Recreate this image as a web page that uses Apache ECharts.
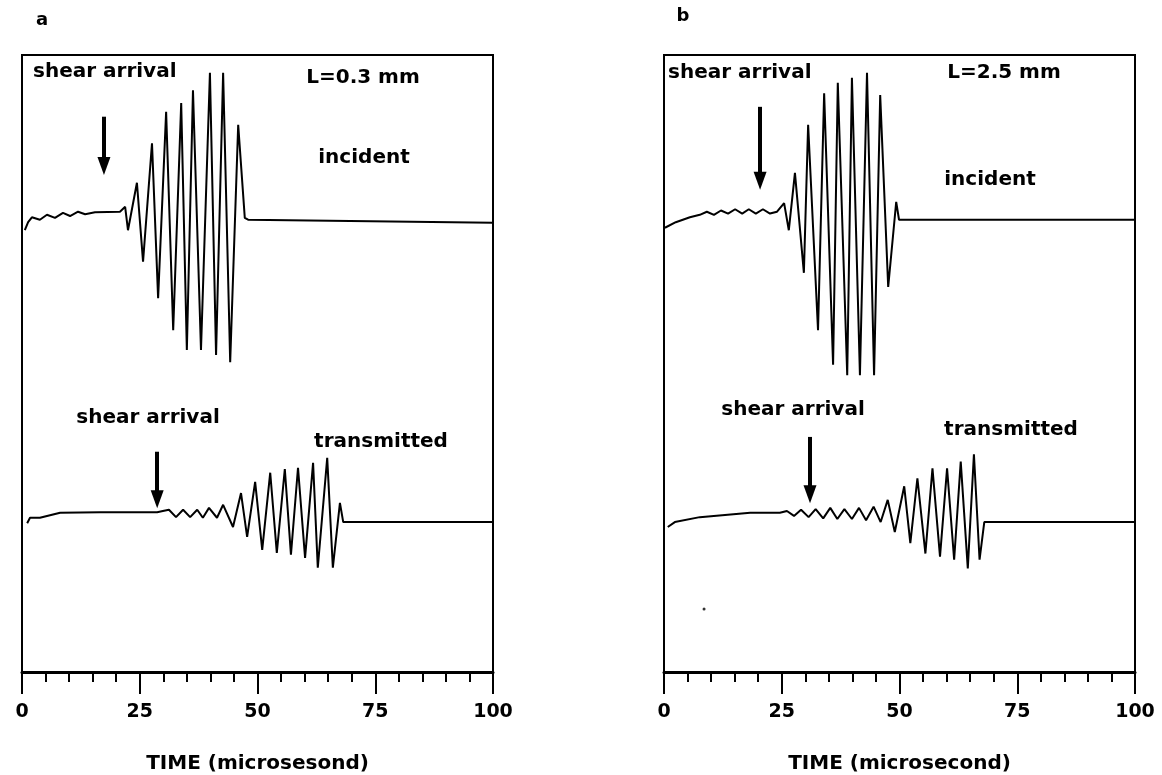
<!DOCTYPE html>
<html>
<head>
<meta charset="utf-8">
<script src="https://cdn.jsdelivr.net/npm/echarts@6/dist/echarts.min.js"></script>
<style>
html, body { margin: 0; padding: 0; background: #fff; }
#main { width: 1162px; height: 775px; }
</style>
</head>
<body>
<div id="main"></div>
<script>
// traces: time in microseconds, amplitude in arbitrary units (0-100 box height)
var timeAInc = [0.6, 1.3, 2.1, 3.8, 5.3, 7.0, 8.7, 10.2, 11.9, 13.4, 15.5, 20.8, 21.9, 22.5, 24.4, 25.7, 27.6, 28.9, 30.6, 32.1, 33.8, 35.0, 36.3, 38.0, 39.9, 41.2, 42.7, 44.2, 45.9, 47.3, 48.0, 100];
var ampAInc  = [71.6, 72.9, 73.7, 73.3, 74.1, 73.6, 74.4, 73.9, 74.6, 74.2, 74.5, 74.6, 75.4, 71.6, 79.3, 66.5, 85.7, 60.6, 90.8, 55.4, 92.2, 52.2, 94.3, 52.2, 97.1, 51.4, 97.1, 50.2, 88.7, 73.6, 73.3, 72.8];

var timeATr = [1.1, 1.7, 3.8, 8.1, 16.6, 28.7, 29.9, 31.2, 32.7, 34.2, 35.7, 37.2, 38.4, 39.7, 41.4, 42.7, 44.8, 46.5, 47.8, 49.5, 51.0, 52.7, 54.1, 55.8, 57.1, 58.6, 60.1, 61.8, 62.8, 64.8, 66.0, 67.5, 68.2, 100];
var ampATr  = [24.1, 25.0, 25.0, 25.8, 25.9, 25.9, 26.1, 26.3, 25.1, 26.3, 25.1, 26.3, 25.0, 26.6, 25.0, 27.1, 23.5, 29.0, 21.9, 30.8, 19.8, 32.3, 19.3, 32.9, 19.0, 33.1, 18.5, 33.9, 16.9, 34.7, 16.9, 27.4, 24.3, 24.3];

var timeBInc = [0.2, 2.5, 5.5, 7.6, 9.1, 10.6, 12.1, 13.6, 15.1, 16.6, 18.0, 19.5, 21.0, 22.5, 24.0, 25.5, 26.5, 27.8, 29.7, 30.6, 32.7, 34.0, 35.9, 36.9, 38.9, 39.9, 41.6, 43.1, 44.6, 45.9, 47.6, 49.3, 49.9, 100];
var ampBInc  = [72.0, 72.9, 73.7, 74.1, 74.6, 74.1, 74.8, 74.3, 75.0, 74.3, 75.0, 74.3, 75.0, 74.3, 74.6, 76.0, 71.6, 80.9, 64.7, 88.7, 55.4, 93.8, 49.8, 95.5, 48.1, 96.3, 48.1, 97.1, 48.1, 93.5, 62.4, 76.2, 73.3, 73.3];

var timeBTr = [0.8, 2.3, 7.6, 18.3, 24.6, 26.1, 27.6, 29.1, 30.7, 32.2, 33.8, 35.3, 36.8, 38.3, 39.9, 41.4, 42.9, 44.5, 46.0, 47.5, 49.0, 51.0, 52.3, 53.8, 55.5, 57.0, 58.6, 60.1, 61.6, 63.0, 64.5, 65.8, 67.0, 68.0, 100];
var ampBTr  = [23.5, 24.3, 25.1, 25.8, 25.8, 26.1, 25.3, 26.3, 25.1, 26.4, 24.9, 26.6, 24.8, 26.4, 24.8, 26.6, 24.6, 26.8, 24.3, 27.9, 22.7, 30.1, 20.9, 31.4, 19.2, 33.0, 18.7, 33.0, 18.2, 34.1, 16.8, 35.3, 18.2, 24.3, 24.3];

// shear-arrival arrows: [incident A, transmitted A, incident B, transmitted B]
// arrowHead is the middle of the arrow head
var arrowTime = [17.4, 28.7, 20.4, 31.0];
var arrowFrom = [90.0, 35.7, 91.6, 38.1];
var arrowHead = [82.0, 28.0, 79.6, 28.8];

// stray speck on panel b
var speckB = [[8.5, 10.2]];

var xMin = 0, xMax = 100, minorStep = 5, majorStep = 25;

function pairs(t, v) {
    var out = [];
    for (var i = 0; i < t.length; i++) out.push([t[i], v[i]]);
    return out;
}

function arrow(i) {
    return {
        silent: true,
        symbol: ['none', 'triangle'],
        symbolSize: [13, 18],
        label: { show: false },
        itemStyle: { color: '#000' },
        lineStyle: { color: '#000', width: 4, type: 'solid' },
        data: [[{ coord: [arrowTime[i], arrowFrom[i]] }, { coord: [arrowTime[i], arrowHead[i]] }]]
    };
}

var FONT = '"DejaVu Sans", sans-serif';

function minorAxis(g) {
    return {
        gridIndex: g, type: 'value', position: 'bottom', min: xMin, max: xMax, interval: minorStep,
        axisLine: { show: true, lineStyle: { color: '#000', width: 3 } },
        axisTick: { show: true, length: 10, lineStyle: { color: '#000', width: 2 } },
        axisLabel: { show: false },
        splitLine: { show: false }
    };
}

function majorAxis(g, title) {
    return {
        gridIndex: g, type: 'value', position: 'bottom', min: xMin, max: xMax, interval: majorStep,
        axisLine: { show: false },
        axisTick: { show: true, length: 22, lineStyle: { color: '#000', width: 2 } },
        axisLabel: { show: true, margin: 31, color: '#000', fontSize: 19, fontWeight: 'bold', fontFamily: FONT, showMinLabel: true, showMaxLabel: true },
        splitLine: { show: false },
        name: title, nameLocation: 'middle', nameGap: 82,
        nameTextStyle: { color: '#000', fontSize: 20, fontWeight: 'bold', fontFamily: FONT }
    };
}

function txt(x, y, s, align, size) {
    return {
        type: 'text', x: x, y: y, silent: true,
        style: { text: s, fill: '#000', align: align || 'center', verticalAlign: 'middle',
                 font: 'bold ' + (size || 20) + 'px ' + FONT }
    };
}

var lineStyle = { color: '#000', width: 2 };

var myChart = echarts.init(document.getElementById('main'));

var option = {
    animation: false,
    backgroundColor: '#fff',
    grid: [
        { left: 22, right: 669, top: 55, bottom: 103, show: true, borderColor: '#000', borderWidth: 2, outerBoundsMode: 'none' },
        { left: 664, right: 27, top: 55, bottom: 103, show: true, borderColor: '#000', borderWidth: 2, outerBoundsMode: 'none' }
    ],
    xAxis: [
        minorAxis(0), majorAxis(0, 'TIME (microsesond)'),
        minorAxis(1), majorAxis(1, 'TIME (microsecond)')
    ],
    yAxis: [
        { gridIndex: 0, type: 'value', min: 0, max: 100, show: false },
        { gridIndex: 1, type: 'value', min: 0, max: 100, show: false }
    ],
    graphic: [
        txt(42, 20, 'a', 'center', 18),
        txt(33, 72, 'shear arrival', 'left'),
        txt(363, 78, 'L=0.3 mm'),
        txt(364, 158, 'incident'),
        txt(148, 418, 'shear arrival'),
        txt(381, 442, 'transmitted'),
        txt(683, 16, 'b', 'center', 18),
        txt(668, 73, 'shear arrival', 'left'),
        txt(1004, 73, 'L=2.5 mm'),
        txt(990, 180, 'incident'),
        txt(793, 410, 'shear arrival'),
        txt(1011, 430, 'transmitted')
    ],
    series: [
        { name: 'a incident', type: 'line', xAxisIndex: 0, yAxisIndex: 0, data: pairs(timeAInc, ampAInc),
          showSymbol: false, symbol: 'none', lineStyle: lineStyle, markLine: arrow(0) },
        { name: 'a transmitted', type: 'line', xAxisIndex: 0, yAxisIndex: 0, data: pairs(timeATr, ampATr),
          showSymbol: false, symbol: 'none', lineStyle: lineStyle, markLine: arrow(1) },
        { name: 'b incident', type: 'line', xAxisIndex: 2, yAxisIndex: 1, data: pairs(timeBInc, ampBInc),
          showSymbol: false, symbol: 'none', lineStyle: lineStyle, markLine: arrow(2) },
        { name: 'b transmitted', type: 'line', xAxisIndex: 2, yAxisIndex: 1, data: pairs(timeBTr, ampBTr),
          showSymbol: false, symbol: 'none', lineStyle: lineStyle, markLine: arrow(3) },
        { name: 'speck', type: 'scatter', xAxisIndex: 2, yAxisIndex: 1, data: speckB,
          symbolSize: 3, itemStyle: { color: '#000' }, silent: true }
    ]
};

myChart.setOption(option);
</script>
</body>
</html>
